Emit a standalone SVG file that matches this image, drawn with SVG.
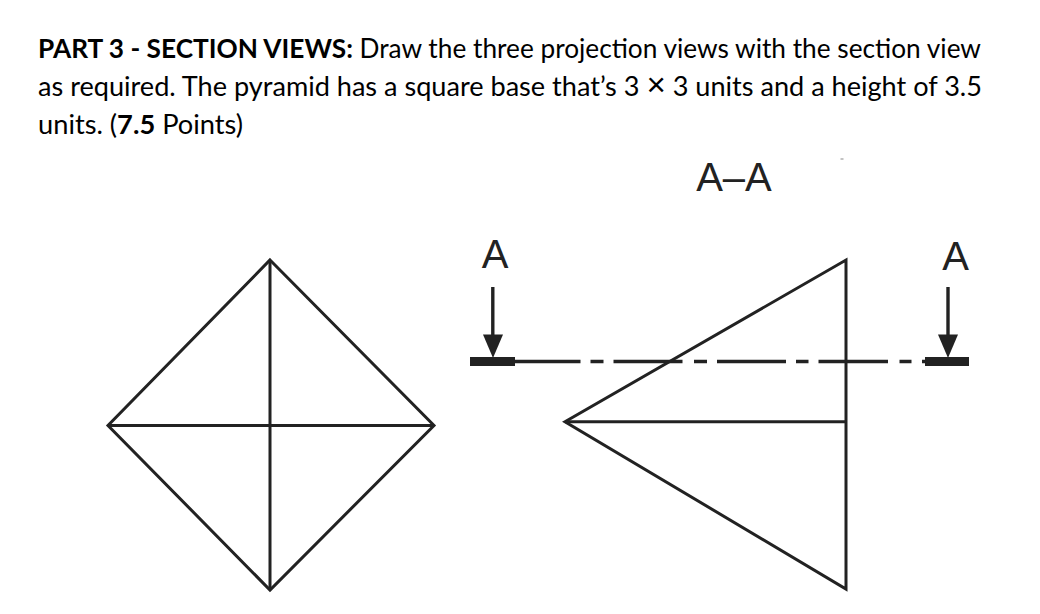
<svg xmlns="http://www.w3.org/2000/svg" width="1040" height="614" viewBox="0 0 1040 614">
<style>
.t{font-family:"Lato","Open Sans",sans-serif;font-size:27px;fill:#000}
.b{font-weight:700}
.x{font-family:"Liberation Sans",Arial,sans-serif;font-size:33px}
.l{font-family:"Liberation Sans",Arial,sans-serif;font-size:40px;fill:#222;text-anchor:middle}
.s{fill:none;stroke:#222;stroke-width:3;stroke-linejoin:miter}
.c{fill:none;stroke:#222;stroke-width:3.4}
.k{fill:#222;stroke:none}
</style>
<rect width="1040" height="614" fill="#fff"/>
<g id="heading">
<text class="t" x="38" y="57.500" textLength="943" lengthAdjust="spacingAndGlyphs"><tspan class="b">PART 3 - SECTION VIEWS:</tspan> Draw the three projection views with the section view</text>
<text class="t" x="38" y="95.500" textLength="944" lengthAdjust="spacingAndGlyphs">as required. The pyramid has a square base that’s 3 <tspan class="x">×</tspan> 3 units and a height of 3.5</text>
<text class="t" x="38" y="133.500" textLength="205" lengthAdjust="spacingAndGlyphs">units. (<tspan class="b">7.5</tspan> Points)</text>
</g>
<g id="title-aa"><text class="l" x="734" y="191">A–A</text></g>
<g id="top-view">
<path class="s" d="M270 260L434 425.500L270 590L108 425.500Z"/>
<path class="s" d="M270 260V590M108 425.500H434"/>
</g>
<g id="side-view">
<path class="s" d="M846 260V589L565 421.800Z"/>
<path class="s" d="M565 421.800H846"/>
<rect x="840.500" y="158.500" width="3" height="1" fill="#888"/>
</g>
<g id="connectors">
<path class="c" d="M515 361.500H580.500M590.500 361.500H603.500M613.500 361.500H682.500M694 361.500H707M717 361.500H786M796 361.500H808.500M818.500 361.500H888M899.500 361.500H911.500M922 361.500H926"/>
</g>
<g id="cut-left">
<text class="l" x="495" y="268">A</text>
<path class="c" d="M492.800 287V340"/>
<path class="k" d="M483 334.500H503L493 358Z"/>
<rect class="k" x="470" y="357" width="45" height="9"/>
</g>
<g id="cut-right">
<text class="l" x="955.500" y="270">A</text>
<path class="c" d="M948 287V340"/>
<path class="k" d="M938 334.500H958L948 358Z"/>
<rect class="k" x="925" y="357" width="44" height="9"/>
</g>
</svg>
